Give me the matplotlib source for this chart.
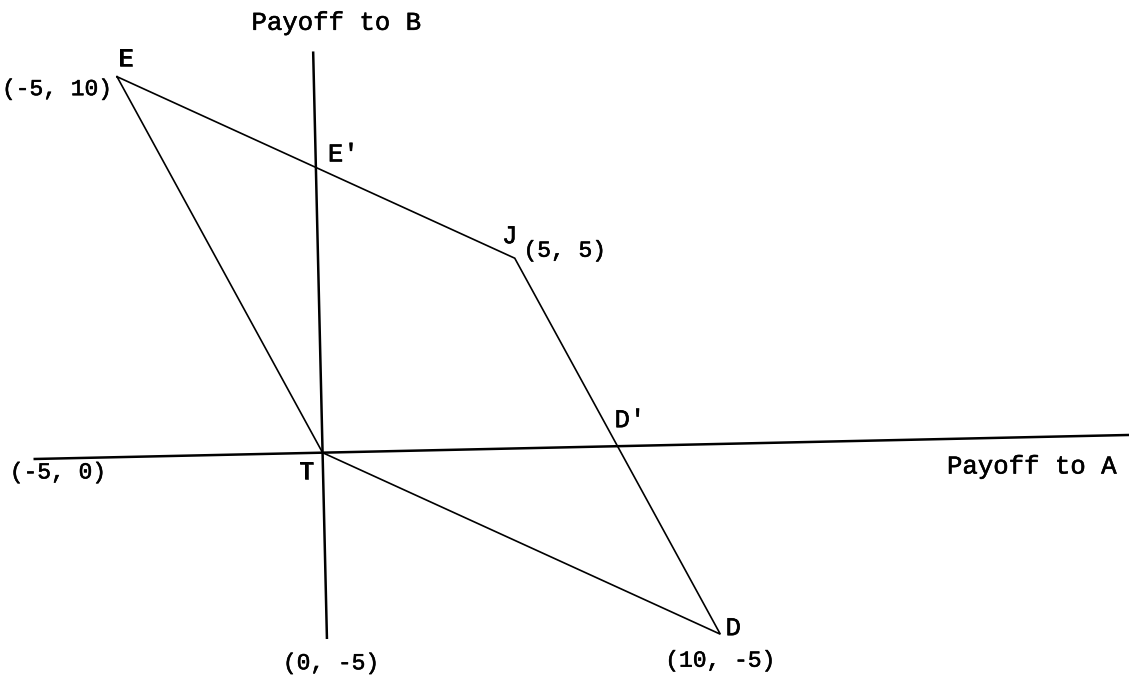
import numpy as np
import matplotlib
matplotlib.use("Agg")
import matplotlib.pyplot as plt
import matplotlib.transforms as mtransforms
import matplotlib.patheffects as pe

plt.rcParams['font.family'] = ['Liberation Mono', 'DejaVu Sans Mono']

# vertices of the payoff region (E -> J -> D -> T -> E)
vertex_names = ['E', 'J', 'D', 'T']
vertex_x = [-5, 5, 10, 0]
vertex_y = [10, 5, -5, 0]
coord_labels = ['(-5, 10)', '(5, 5)', '(10, -5)', None]

# extra axis points that carry coordinate labels
axis_pt_x = [-5, 0]
axis_pt_y = [0, -5]
axis_pt_labels = ['(-5, 0)', '(0, -5)']

# extent of the drawn axes
haxis_x = [-7.35, 20.7]
vaxis_y = [-4.9, 10.55]

fig = plt.figure(figsize=(11.29, 6.79), dpi=100)
ax = fig.add_axes([0, 0, 1, 1])
ax.set_xlim(-8.2, 20.5)
ax.set_ylim(-5.95, 11.90)
ax.axis('off')

# the scanned page is tilted a little
rot = mtransforms.Affine2D().rotate_deg(1.3) + ax.transData

ax.plot(haxis_x, [0, 0], color='black', lw=1.8, transform=rot, solid_capstyle='butt')
ax.plot([0, 0], vaxis_y, color='black', lw=1.8, transform=rot, solid_capstyle='butt')

px = vertex_x + [vertex_x[0]]
py = vertex_y + [vertex_y[0]]
ax.plot(px, py, color='black', lw=1.2, transform=rot, solid_joinstyle='miter')

ink = [pe.withStroke(linewidth=0.4, foreground='black')]
fs_letter = 18.5
fs_coord = 16.5

name_off = {'E': (9, 18), 'J': (-5, 22), 'D': (13, 6), 'T': (-16, -19)}
coord_off = {'E': (-60, -12), 'J': (50, 8), 'D': (0, -26)}

for name, x, y, lab in zip(vertex_names, vertex_x, vertex_y, coord_labels):
    ax.annotate(name, xy=(x, y), xycoords=rot, xytext=name_off[name],
                textcoords='offset pixels', ha='center', va='center',
                fontsize=fs_letter, path_effects=ink)
    if lab:
        ax.annotate(lab, xy=(x, y), xycoords=rot, xytext=coord_off[name],
                    textcoords='offset pixels', ha='center', va='center',
                    fontsize=fs_coord, path_effects=ink)

axis_off = [(-68, -15), (4, -20)]
for x, y, lab, off in zip(axis_pt_x, axis_pt_y, axis_pt_labels, axis_off):
    ax.annotate(lab, xy=(x, y), xycoords=rot, xytext=off,
                textcoords='offset pixels', ha='center', va='center',
                fontsize=fs_coord, path_effects=ink)

# E' : edge E-J crossing x = 0 ; D' : edge J-D crossing y = 0
e_prime_y = np.interp(0, [vertex_x[0], vertex_x[1]], [vertex_y[0], vertex_y[1]])
d_prime_x = np.interp(0, [vertex_y[2], vertex_y[1]], [vertex_x[2], vertex_x[1]])
ax.annotate("E'", xy=(0, e_prime_y), xycoords=rot, xytext=(12, 13),
            textcoords='offset pixels', ha='left', va='center',
            fontsize=fs_letter, path_effects=ink)
ax.annotate("D'", xy=(d_prime_x, 0), xycoords=rot, xytext=(-3, 26),
            textcoords='offset pixels', ha='left', va='center',
            fontsize=fs_letter, path_effects=ink)

ax.text(18.04, -0.365, 'Payoff to A', ha='center', va='center',
        fontsize=fs_letter, path_effects=ink)
ax.text(0.36, 11.3, 'Payoff to B', ha='center', va='center',
        fontsize=fs_letter, path_effects=ink)

fig.savefig('out.png', dpi=100)
